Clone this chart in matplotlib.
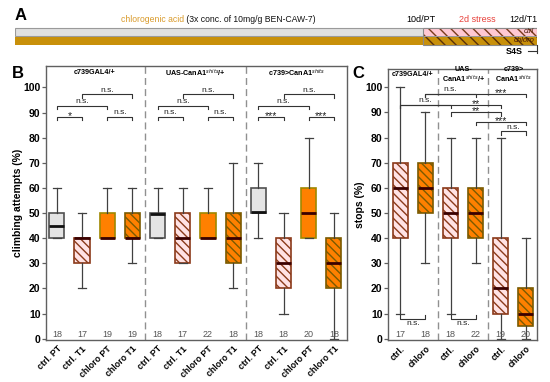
import matplotlib
matplotlib.use("Agg")
import matplotlib.pyplot as plt
from matplotlib.patches import Rectangle

plt.rcParams['font.family'] = ['Liberation Sans', 'DejaVu Sans']
plt.rcParams['hatch.linewidth'] = 1.0

# ---- panel B: climbing attempts (%) ----
b_labels = ["ctrl. PT", "ctrl. T1", "chloro PT", "chloro T1"] * 3
b_low = [40, 20, 40, 30, 40, 30, 40, 20, 40, 10, 40, 0]
b_q1 = [40, 30, 40, 40, 40, 30, 40, 30, 50, 20, 40, 20]
b_med = [45, 40, 40, 40, 49.5, 40, 40, 40, 50.5, 30, 50, 30]
b_q3 = [50, 40, 50, 50, 50, 50, 50, 50, 60, 40, 60, 40]
b_high = [60, 50, 60, 60, 60, 60, 60, 70, 70, 50, 80, 50]
b_n = [18, 17, 19, 19, 18, 17, 22, 18, 18, 18, 20, 18]
b_kind = ["grey", "pink", "orange", "orangehatch"] * 3
b_groups = ["c739GAL4/+", r"UAS-CanA1$^{shits}$/+", r"c739>CanA1$^{shits}$"]
# (left box, right box, height, label, label position)
b_sig = [(0, 1, 88.3, "*", 0.5), (2, 3, 88.3, "n.s.", 2.5),
         (0, 2, 92.6, "n.s.", 1), (1, 3, 97.2, "n.s.", 2),
         (4, 5, 88.3, "n.s.", 4.5), (6, 7, 88.3, "n.s.", 6.5),
         (4, 6, 92.6, "n.s.", 5), (5, 7, 97.2, "n.s.", 6),
         (8, 9, 88.3, "***", 8.5), (10, 11, 88.3, "***", 10.5),
         (8, 10, 92.6, "n.s.", 9), (9, 11, 97.2, "n.s.", 10)]

# ---- panel C: stops (%) ----
c_labels = ["ctrl.", "chloro"] * 3
c_low = [10, 30, 10, 30, 0, 0]
c_q1 = [40, 50, 40, 40, 10, 5]
c_med = [60, 60, 50, 50, 20, 10]
c_q3 = [70, 70, 60, 60, 40, 20]
c_high = [100, 90, 80, 80, 80, 40]
c_n = [17, 18, 18, 22, 19, 20]
c_kind = ["pink", "orangehatch"] * 3
c_groups = ["c739GAL4/+", "UAS-\n" + r"CanA1$^{shits}$/+", "c739>\n" + r"CanA1$^{shits}$"]
c_sig_top = [(1, 3, 97.3, "n.s.", 2), (1, 5, 97.3, "***", 4),
             (0, 2, 93.1, "n.s.", 1), (0, 4, 93.1, "**", 3),
             (2, 4, 90.1, "**", 3), (3, 5, 86.3, "***", 4),
             (4, 5, 82.5, "n.s.", 4.5)]
c_sig_bottom = [(0, 1, 8, "n.s.", 0.5), (2, 3, 8, "n.s.", 2.5)]

HATCH = "\\" * 4
STYLES = {
    "grey": dict(fc="#e4e4e4", ec="#505050", hatch=None, med="#111111"),
    "pink": dict(fc="#ffe2e4", ec="#8b3a1a", hatch=HATCH, med="#3a0000"),
    "orange": dict(fc="#ff8000", ec="#a08800", hatch=None, med="#3a0000"),
    "orangehatch": dict(fc="#ff8000", ec="#7a5a00", hatch=HATCH, med="#3a0000"),
}


def draw_boxes(ax, low, q1, med, q3, high, kinds):
    stats = []
    for i in range(len(med)):
        stats.append(dict(whislo=low[i], q1=q1[i], med=med[i], q3=q3[i],
                          whishi=high[i], fliers=[]))
    bp = ax.bxp(stats, positions=range(len(med)), widths=0.6, capwidths=0.32,
                patch_artist=True, showfliers=False,
                whiskerprops=dict(color="#404040", lw=0.9),
                capprops=dict(color="#404040", lw=0.9),
                medianprops=dict(lw=2.0))
    for box, m, k in zip(bp["boxes"], bp["medians"], kinds):
        st = STYLES[k]
        box.set_facecolor(st["fc"])
        box.set_edgecolor(st["ec"])
        box.set_linewidth(1.2)
        if st["hatch"]:
            box.set_hatch(st["hatch"])
        m.set_color(st["med"])


def bracket(ax, x1, x2, y, label, lx, down=True, h=1.3):
    s = -1 if down else 1
    ax.plot([x1, x1, x2, x2], [y + s * h, y, y, y + s * h],
            color="#333333", lw=0.8, clip_on=False)
    star = "*" in label
    if down:
        ax.text(lx, y + (-1.7 if star else 0.3), label, ha="center",
                va="bottom", fontsize=7.5 if star else 6, color="#222222")
    else:
        ax.text(lx, y - 0.5, label, ha="center", va="top", fontsize=6,
                color="#222222")


def style_axes(ax, labels, n, ylabel, sep):
    for sp in ax.spines.values():
        sp.set_color("#606060")
        sp.set_linewidth(1.0)
    ax.set_yticks(range(0, 101, 10))
    ax.tick_params(axis="y", length=3, width=0.9, color="#606060", pad=1,
                   labelsize=7.5)
    for t in ax.get_yticklabels():
        t.set_fontweight("bold")
    ax.set_xticks(range(len(labels)))
    ax.set_xticklabels(labels, rotation=45, ha="right", rotation_mode="anchor",
                       fontsize=6.3, fontweight="bold")
    ax.tick_params(axis="x", length=0, pad=3)
    ax.set_ylabel(ylabel, fontsize=7.5, fontweight="bold", labelpad=0)
    for s in sep:
        ax.axvline(s, color="#909090", ls=(0, (5, 3)), lw=1.0)
    for i, v in enumerate(n):
        ax.text(i, 1.6, str(v), ha="center", va="center", fontsize=6.5,
                color="#555555")


fig = plt.figure(figsize=(5.5, 3.82), dpi=100)

# ---- B ----
axb = fig.add_axes([46 / 550, 42 / 382, 301 / 550, 274 / 382])
draw_boxes(axb, b_low, b_q1, b_med, b_q3, b_high, b_kind)
axb.set_xlim(-0.43, 11.52)
axb.set_ylim(-0.5, 108.5)
style_axes(axb, b_labels, b_n, "climbing attempts (%)", [3.5, 7.5])
for g, name in enumerate(b_groups):
    axb.text(1.5 + 4 * g, 106, name, ha="center", va="center", fontsize=5.2,
             fontweight="bold")
for x1, x2, y, lab, lx in b_sig:
    bracket(axb, x1, x2, y, lab, lx)

# ---- C ----
axc = fig.add_axes([388 / 550, 42 / 382, 149 / 550, 271 / 382])
draw_boxes(axc, c_low, c_q1, c_med, c_q3, c_high, c_kind)
axc.set_xlim(-0.49, 5.44)
axc.set_ylim(-0.5, 107.3)
style_axes(axc, c_labels, c_n, "stops (%)", [1.5, 3.5])
for g, name in enumerate(c_groups):
    axc.text(0.5 + 2 * g, 105.0, name, ha="center", va="center",
             fontsize=5.2, fontweight="bold", linespacing=1.05)
for x1, x2, y, lab, lx in c_sig_top:
    bracket(axc, x1, x2, y, lab, lx)
for x1, x2, y, lab, lx in c_sig_bottom:
    bracket(axc, x1, x2, y, lab, lx, down=False)

# ---- A: schematic time line ----
axa = fig.add_axes([15 / 550, 324 / 382, 522 / 550, 50 / 382])
axa.set_xlim(0, 1)
axa.set_ylim(1, 0)
axa.axis("off")
stress_start = 0.782
axa.add_patch(Rectangle((0, 0.39), 1, 0.17, fc="#e0e0e0", ec="#9a9a9a", lw=0.8))
axa.add_patch(Rectangle((0, 0.57), 1, 0.16, fc="#c8900a", ec="none"))
axa.add_patch(Rectangle((stress_start, 0.39), 1 - stress_start, 0.17,
                        fc="#ffc8d2", ec="#7a3a1a", lw=0, hatch="\\" * 3))
axa.add_patch(Rectangle((stress_start, 0.57), 1 - stress_start, 0.16,
                        fc="#c8900a", ec="#5a3008", lw=0, hatch="\\" * 3))
axa.add_patch(Rectangle((stress_start, 0.39), 1 - stress_start, 0.34,
                        fill=False, ec="#8a8a8a", lw=0.8))
t1 = axa.text(0.203, 0.22, "chlorogenic acid", color="#d99a2b", fontsize=6.2,
              ha="left", va="center")
axa.annotate(" (3x conc. of 10mg/g BEN-CAW-7)", xy=(1, 0.5), xycoords=t1,
             ha="left", va="center", fontsize=6.2, color="#111111")
axa.text(0.778, 0.22, "10d/PT", ha="center", va="center", fontsize=6.5)
axa.text(0.886, 0.22, "2d stress", ha="center", va="center", fontsize=6.5,
         color="#e8403a")
axa.text(1.0, 0.22, "12d/T1", ha="right", va="center", fontsize=6.5)
axa.text(0.995, 0.475, "ctrl", ha="right", va="center", fontsize=5.5,
         color="#4a1a0a", style="italic")
axa.text(0.995, 0.655, "chloro", ha="right", va="center", fontsize=5.5,
         color="#4a1a0a", style="italic")
axa.text(0.972, 0.86, "S4S", ha="right", va="center", fontsize=6.5,
         fontweight="bold")
axa.plot([1.0, 1.0], [0.73, 0.9], color="#333333", lw=0.8, clip_on=False)
axa.plot([0.982, 1.0], [0.86, 0.86], color="#333333", lw=0.8, clip_on=False)

# panel letters
fig.text(15 / 550, 1 - 16 / 382, "A", fontsize=12, fontweight="bold",
         va="center", ha="left")
fig.text(12 / 550, 1 - 74 / 382, "B", fontsize=12, fontweight="bold",
         va="center", ha="left")
fig.text(352 / 550, 1 - 73 / 382, "C", fontsize=12, fontweight="bold",
         va="center", ha="left")

fig.savefig("out.png", dpi=100)
